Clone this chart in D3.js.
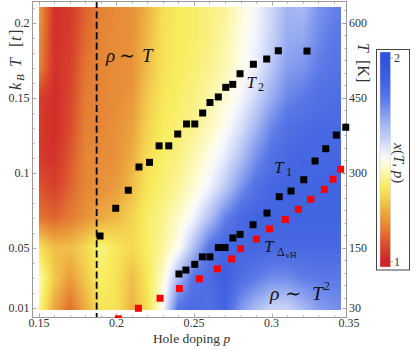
<!DOCTYPE html>
<html>
<head>
<meta charset="utf-8">
<script src="https://cdn.jsdelivr.net/npm/d3@7"></script>
<style>
  html, body { margin: 0; padding: 0; background: #fff; }
  svg { display: block; font-family: "Liberation Serif", "Times New Roman", serif; }
</style>
</head>
<body>
<svg id="chart" width="416" height="349"></svg>
<script>
// --- data ---

// density map grid: hole doping p (columns) x temperature k_B T in t (rows)
const gridP = [0.15, 0.16, 0.17, 0.18, 0.19, 0.20, 0.21, 0.22, 0.23, 0.24, 0.25,
               0.26, 0.27, 0.28, 0.29, 0.30, 0.31, 0.32, 0.33, 0.34, 0.35];
const gridT = [0.01, 0.03, 0.05, 0.07, 0.09, 0.11, 0.13, 0.15, 0.17, 0.19, 0.21];

// resistivity exponent x(T,p), one row per entry of gridT
const exponentRows = [
  [1.42, 1.24, 1.14, 1.25, 1.36, 1.35, 1.26, 1.35, 1.50, 1.82, 1.85, 1.83, 1.88, 1.74, 1.66, 1.60, 1.60, 1.66, 1.72, 1.75, 1.75],
  [1.45, 1.30, 1.22, 1.30, 1.38, 1.35, 1.28, 1.36, 1.46, 1.66, 1.82, 1.85, 1.90, 1.84, 1.80, 1.76, 1.76, 1.79, 1.80, 1.80, 1.80],
  [1.35, 1.28, 1.28, 1.33, 1.40, 1.36, 1.33, 1.38, 1.42, 1.50, 1.65, 1.82, 1.88, 1.87, 1.87, 1.86, 1.86, 1.86, 1.86, 1.86, 1.86],
  [1.15, 1.12, 1.16, 1.20, 1.24, 1.27, 1.32, 1.38, 1.41, 1.46, 1.53, 1.64, 1.78, 1.86, 1.88, 1.88, 1.88, 1.88, 1.88, 1.88, 1.88],
  [1.10, 1.06, 1.12, 1.18, 1.20, 1.22, 1.28, 1.36, 1.39, 1.42, 1.47, 1.53, 1.62, 1.74, 1.83, 1.87, 1.88, 1.88, 1.88, 1.88, 1.88],
  [1.05, 1.03, 1.10, 1.18, 1.19, 1.20, 1.25, 1.34, 1.38, 1.40, 1.44, 1.49, 1.55, 1.64, 1.75, 1.83, 1.86, 1.87, 1.87, 1.87, 1.87],
  [1.05, 1.02, 1.08, 1.17, 1.18, 1.20, 1.23, 1.32, 1.37, 1.39, 1.41, 1.45, 1.50, 1.57, 1.67, 1.77, 1.83, 1.85, 1.86, 1.86, 1.86],
  [1.06, 1.02, 1.07, 1.16, 1.18, 1.19, 1.21, 1.30, 1.36, 1.38, 1.40, 1.43, 1.47, 1.52, 1.59, 1.69, 1.77, 1.80, 1.83, 1.84, 1.84],
  [1.18, 1.03, 1.06, 1.15, 1.18, 1.19, 1.20, 1.28, 1.35, 1.37, 1.39, 1.41, 1.44, 1.49, 1.54, 1.63, 1.72, 1.74, 1.79, 1.82, 1.82],
  [1.20, 1.03, 1.05, 1.13, 1.18, 1.19, 1.20, 1.27, 1.35, 1.37, 1.38, 1.40, 1.43, 1.48, 1.53, 1.60, 1.69, 1.70, 1.76, 1.80, 1.80],
  [1.22, 1.03, 1.05, 1.12, 1.17, 1.19, 1.20, 1.26, 1.34, 1.37, 1.38, 1.40, 1.42, 1.47, 1.52, 1.59, 1.67, 1.66, 1.74, 1.78, 1.80]
];

// crossover lines, [p, k_B T]
const t2Points = [
  [0.1894, 0.0578], [0.1995, 0.0763], [0.2076, 0.0883], [0.2145, 0.1038], [0.2213, 0.1069],
  [0.2275, 0.1179], [0.2337, 0.1179], [0.2395, 0.1258], [0.2452, 0.1325], [0.2505, 0.1325],
  [0.2556, 0.1398], [0.2603, 0.1468], [0.2657, 0.1505], [0.2705, 0.1569], [0.2750, 0.1589],
  [0.2797, 0.1660], [0.2883, 0.1723], [0.2969, 0.1758], [0.3044, 0.1813], [0.3229, 0.1811]
];
const t1Points = [
  [0.2403, 0.0325], [0.2448, 0.0351], [0.2505, 0.0389], [0.2554, 0.0439], [0.2603, 0.0439],
  [0.2657, 0.0501], [0.2700, 0.0501], [0.2751, 0.0565], [0.2797, 0.0589], [0.2881, 0.0653],
  [0.2971, 0.0731], [0.3050, 0.0840], [0.3126, 0.0878], [0.3208, 0.0953], [0.3281, 0.1078],
  [0.3350, 0.1160], [0.3418, 0.1251], [0.3479, 0.1303]
];
const tvhPoints = [
  [0.2012, 0.0026], [0.2141, 0.0096], [0.2281, 0.0163], [0.2406, 0.0228], [0.2535, 0.0293],
  [0.2650, 0.0359], [0.2743, 0.0425], [0.2801, 0.0493], [0.2902, 0.0558], [0.2987, 0.0625],
  [0.3089, 0.0688], [0.3173, 0.0756], [0.3253, 0.0823], [0.3341, 0.0889], [0.3397, 0.0956],
  [0.3446, 0.1023]
];

const pStar = 0.1872;                       // dashed line
const xTicks = [0.15, 0.2, 0.25, 0.3, 0.35];
const yTicks = [0.01, 0.05, 0.1, 0.15, 0.2];
const kelvinTicks = [30, 150, 300, 450, 600]; // right axis, T = 3000 K * k_B T / t
const barTicks = [1, 2];

// colour ramp of the legend (value -> colour)
const rampValues = [1.00, 1.08, 1.15, 1.22, 1.30, 1.37, 1.43, 1.49, 1.52, 1.60, 1.70, 1.80, 1.90, 2.00];
const rampColors = ["#d0222b", "#d94a2c", "#e27632", "#ea9c3c", "#f2c94c", "#f8ec5c", "#fbf6a6",
                    "#fefde8", "#f6f7fc", "#c9d3f7", "#93a8f0", "#5a78e6", "#3d5fe0", "#2f52de"];

// --- layout ---
const frame = { left: 32, right: 347, top: 1, bottom: 318 };
const x = d3.scaleLinear().domain([0.1455, 0.3487]).range([frame.left, frame.right]);
const y = d3.scaleLinear().domain([0.00313, 0.21447]).range([frame.bottom, frame.top]);
const colour = d3.scaleLinear().domain(rampValues).range(rampColors).clamp(true);

const svg = d3.select("#chart");

// --- density map (bilinear between grid nodes) ---
function locate(arr, v) {
  if (v <= arr[0]) return [0, 0];
  if (v >= arr[arr.length - 1]) return [arr.length - 2, 1];
  const i = d3.bisectRight(arr, v) - 1;
  return [i, (v - arr[i]) / (arr[i + 1] - arr[i])];
}
function sample(p, t) {
  const [i, fx] = locate(gridP, p);
  const [j, fy] = locate(gridT, t);
  const a = exponentRows[j][i], b = exponentRows[j][i + 1];
  const c = exponentRows[j + 1][i], d = exponentRows[j + 1][i + 1];
  return (a * (1 - fx) + b * fx) * (1 - fy) + (c * (1 - fx) + d * fx) * fy;
}

const hx0 = Math.round(x(0.15)), hx1 = Math.round(x(0.345));
const hy0 = Math.round(y(0.2105)), hy1 = Math.round(y(0.0085));
const cw = hx1 - hx0, ch = hy1 - hy0;
const canvas = document.createElement("canvas");
canvas.width = cw; canvas.height = ch;
const ctx = canvas.getContext("2d");
const img = ctx.createImageData(cw, ch);
for (let j = 0; j < ch; j++) {
  const t = y.invert(hy0 + j + 0.5);
  for (let i = 0; i < cw; i++) {
    const c = d3.rgb(colour(sample(x.invert(hx0 + i + 0.5), t)));
    const k = (j * cw + i) * 4;
    img.data[k] = c.r; img.data[k + 1] = c.g; img.data[k + 2] = c.b; img.data[k + 3] = 255;
  }
}
ctx.putImageData(img, 0, 0);
svg.append("image")
  .attr("x", hx0).attr("y", hy0).attr("width", cw).attr("height", ch)
  .attr("preserveAspectRatio", "none")
  .attr("href", canvas.toDataURL());

// dashed p* line
svg.append("line")
  .attr("x1", x(pStar)).attr("x2", x(pStar))
  .attr("y1", frame.top).attr("y2", frame.bottom)
  .attr("stroke", "#000").attr("stroke-width", 1.8)
  .attr("stroke-dasharray", "7,3.4");

// --- frame and ticks ---
const tickCol = "#999";
svg.append("rect")
  .attr("x", frame.left + 0.5).attr("y", frame.top + 0.5)
  .attr("width", frame.right - frame.left - 1).attr("height", frame.bottom - frame.top - 1)
  .attr("fill", "none").attr("stroke", tickCol).attr("stroke-width", 1);

const ticks = svg.append("g").attr("stroke", tickCol).attr("stroke-width", 0.8);
const minorP = d3.range(15, 35).map((d) => d / 100);
minorP.forEach((p) => {
  const len = xTicks.some((m) => Math.abs(m - p) < 1e-9) ? 4.5 : 2.5;
  const px = Math.round(x(p)) + 0.5;
  ticks.append("line").attr("x1", px).attr("x2", px).attr("y1", frame.bottom).attr("y2", frame.bottom - len);
  ticks.append("line").attr("x1", px).attr("x2", px).attr("y1", frame.top).attr("y2", frame.top + len);
});
d3.range(1, 22).map((d) => d / 100).forEach((t) => {
  const len = yTicks.some((m) => Math.abs(m - t) < 1e-9) ? 4.5 : 2.5;
  const py = Math.round(y(t)) + 0.5;
  ticks.append("line").attr("x1", frame.left).attr("x2", frame.left + len).attr("y1", py).attr("y2", py);
});
d3.range(50, 650, 25).concat(kelvinTicks).forEach((k) => {
  const len = kelvinTicks.includes(k) ? 4.5 : 2.5;
  const py = Math.round(y(k / 3000)) + 0.5;
  ticks.append("line").attr("x1", frame.right).attr("x2", frame.right - len).attr("y1", py).attr("y2", py);
});

// tick labels
const lab = svg.append("g").attr("fill", "#333").attr("font-size", 12);
xTicks.forEach((p) => lab.append("text").attr("x", x(p)).attr("y", 327).attr("text-anchor", "middle").text(String(p)));
yTicks.forEach((t) => lab.append("text").attr("x", 29.5).attr("y", y(t) + 4).attr("text-anchor", "end").text(String(t)));
kelvinTicks.forEach((k) => lab.append("text").attr("x", 349).attr("y", y(k / 3000) + 4).text(String(k)));

// axis titles
const bottomTitle = svg.append("text").attr("x", 191.5).attr("y", 343.3)
  .attr("text-anchor", "middle").attr("font-size", 13.5).attr("fill", "#333");
bottomTitle.append("tspan").text("Hole doping ");
bottomTitle.append("tspan").attr("font-style", "italic").text("p");

// rotated left title, reading bottom to top; local x = -screen y
const leftTitle = svg.append("text").attr("transform", "translate(20.5,0) rotate(-90)")
  .attr("font-size", 16).attr("fill", "#333");
leftTitle.append("tspan").attr("x", -90).attr("font-style", "italic").text("k");
leftTitle.append("tspan").attr("x", -81).attr("dy", 3.5).attr("font-style", "italic").attr("font-size", 11).text("B");
leftTitle.append("tspan").attr("x", -67).attr("dy", -3.5).attr("font-style", "italic").text("T");
leftTitle.append("tspan").attr("x", -47).text("[");
leftTitle.append("tspan").attr("x", -41).attr("font-style", "italic").text("t");
leftTitle.append("tspan").attr("x", -35).text("]");

// rotated right title, reading top to bottom; local x = screen y
const rightTitle = svg.append("text").attr("transform", "translate(357.5,0) rotate(90)")
  .attr("font-size", 16).attr("fill", "#333");
rightTitle.append("tspan").attr("x", 43).attr("font-style", "italic").text("T");
rightTitle.append("tspan").attr("x", 60).text("[K]");

// --- markers ---
svg.append("clipPath").attr("id", "mclip")
  .append("rect").attr("x", 0).attr("y", 0).attr("width", 416).attr("height", frame.bottom);
const marks = svg.append("g").attr("clip-path", "url(#mclip)");
const sq = 7;
function squares(data, fill) {
  marks.append("g").selectAll("rect").data(data).join("rect")
    .attr("x", (d) => x(d[0]) - sq / 2).attr("y", (d) => y(d[1]) - sq / 2)
    .attr("width", sq).attr("height", sq).attr("fill", fill);
}
squares(t2Points, "#000");
squares(t1Points, "#000");
squares(tvhPoints, "#ff0000");

// --- annotations ---
function italic(txt, px, py, size) {
  return svg.append("text").attr("x", px).attr("y", py).attr("font-size", size)
    .attr("font-style", "italic").attr("fill", "#111").text(txt);
}
function tilde(px, py, size) {
  svg.append("text").attr("x", px).attr("y", py).attr("font-size", size)
    .attr("font-family", "DejaVu Serif").attr("fill", "#111").text("\u223C");
}
italic("\u03C1", 106, 61.7, 19); tilde(119, 61.7, 19); italic("T", 142, 61.7, 19);
italic("\u03C1", 270, 300, 19.5); tilde(285, 300, 19.5); italic("T", 312, 300, 19.5);
svg.append("text").attr("x", 323.5).attr("y", 290).attr("font-size", 13).attr("fill", "#111").text("2");

italic("T", 246.5, 88.3, 17);
svg.append("text").attr("x", 258).attr("y", 91).attr("font-size", 12).attr("fill", "#111").text("2");
italic("T", 274, 173.3, 17);
svg.append("text").attr("x", 286).attr("y", 176).attr("font-size", 12).attr("fill", "#111").text("1");
italic("T", 264, 252.3, 17);
svg.append("text").attr("x", 277).attr("y", 256).attr("font-size", 12).attr("fill", "#111").text("\u0394");
svg.append("text").attr("x", 285.5).attr("y", 257.5).attr("font-size", 9).attr("fill", "#111").text("vH");

// --- colour legend ---
const cbY = d3.scaleLinear().domain([1, 2]).range([261.7, 58]);
const grad = svg.append("defs").append("linearGradient").attr("id", "ramp")
  .attr("x1", 0).attr("x2", 0).attr("y1", 1).attr("y2", 0);
const barTop = 52, barBottom = 267;
d3.range(0, 41).forEach((k) => {
  const py = barBottom - (k / 40) * (barBottom - barTop);
  grad.append("stop").attr("offset", k / 40).attr("stop-color", colour(cbY.invert(py)));
});
svg.append("rect").attr("x", 376.5).attr("y", 49.5).attr("width", 33).attr("height", 220.5)
  .attr("fill", "#fff").attr("stroke", "#444").attr("stroke-width", 1);
svg.append("rect").attr("x", 380).attr("y", barTop).attr("width", 10.5).attr("height", barBottom - barTop)
  .attr("fill", "url(#ramp)").attr("stroke", "#ccc").attr("stroke-width", 0.5);
barTicks.forEach((v) => {
  svg.append("line").attr("x1", 390.5).attr("x2", 393).attr("y1", cbY(v)).attr("y2", cbY(v))
    .attr("stroke", "#888").attr("stroke-width", 0.8);
  svg.append("text").attr("x", 397).attr("y", cbY(v) + 4).attr("text-anchor", "middle")
    .attr("font-size", 12).attr("fill", "#333").text(String(v));
});
const cbTitle = svg.append("text").attr("transform", "translate(394,163.3) rotate(90)")
  .attr("text-anchor", "middle").attr("font-size", 15).attr("fill", "#333");
cbTitle.append("tspan").attr("font-style", "italic").text("x");
cbTitle.append("tspan").text("(");
cbTitle.append("tspan").attr("font-style", "italic").text("T");
cbTitle.append("tspan").text(", ");
cbTitle.append("tspan").attr("font-style", "italic").text("p");
cbTitle.append("tspan").text(")");
</script>
</body>
</html>
